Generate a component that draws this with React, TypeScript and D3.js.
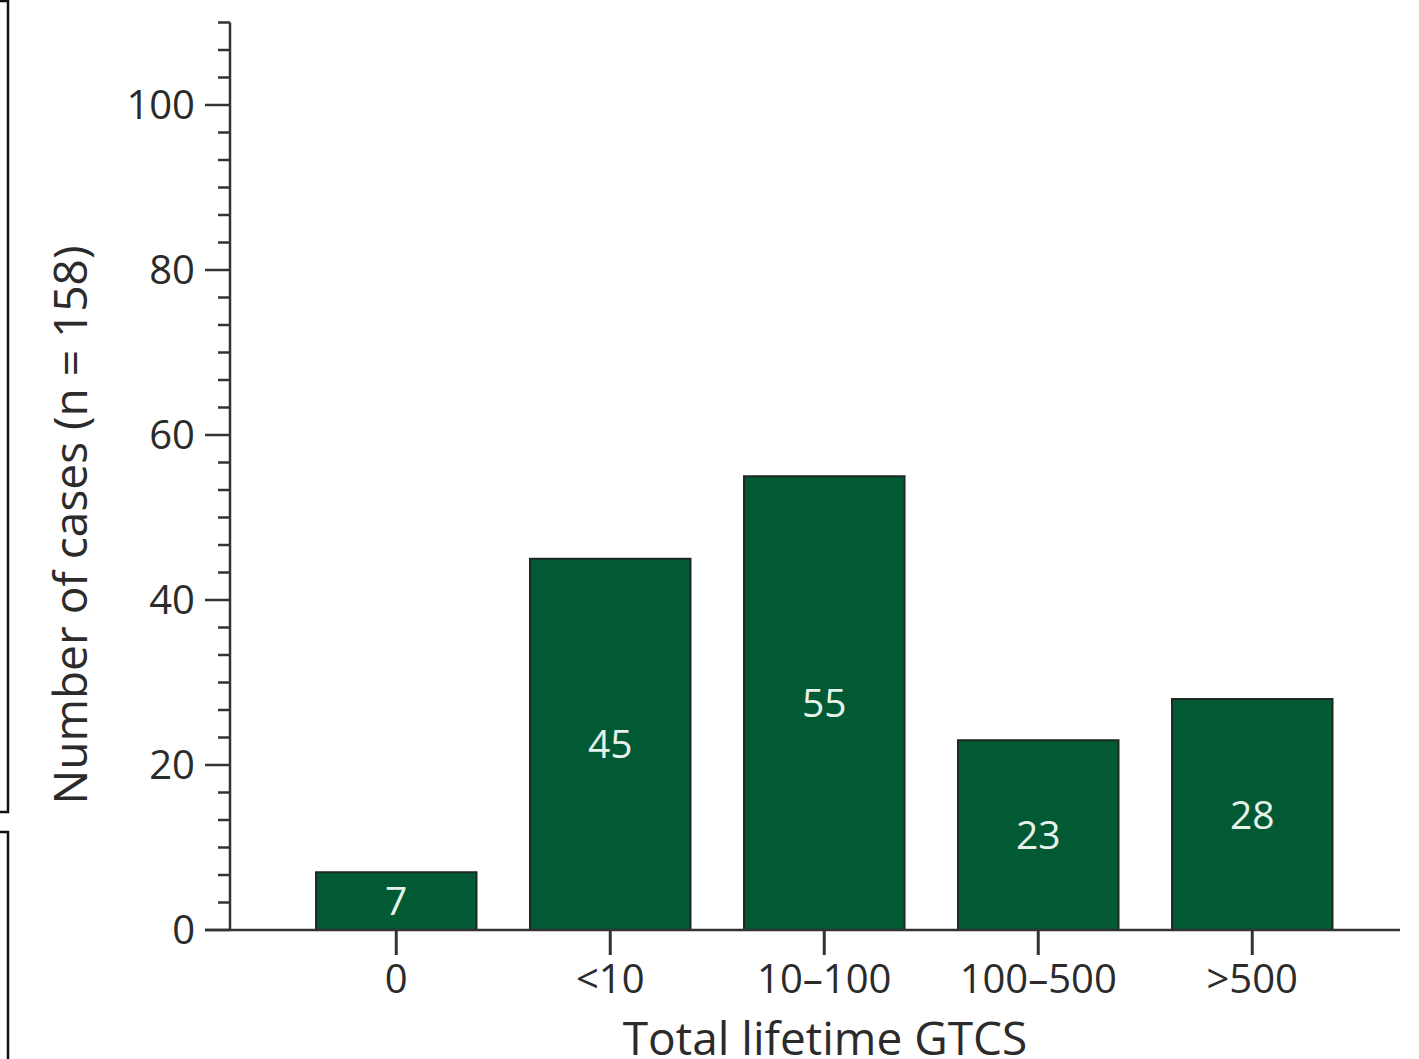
import React, { useRef, useEffect } from 'react';
import * as d3 from 'd3';

// GTCS bins and case counts (n = 158)
const categories = ['0', '<10', '10–100', '100–500', '>500'];
const cases = [7, 45, 55, 23, 28];
const majorTicks = [0, 20, 40, 60, 80, 100];

const App = () => {
  const svgRef = useRef<SVGSVGElement>(null);

  useEffect(() => {
    const width = 1419;
    const height = 1059;
    const font = '"Open Sans", "Noto Sans", sans-serif';
    const textColor = '#2b2b2b';

    const svg = d3.select(svgRef.current);
    svg.selectAll('*').remove();
    svg.attr('width', width).attr('height', height);

    svg.append('rect').attr('width', width).attr('height', height).attr('fill', '#fff');

    // Scales
    const x = d3.scaleBand<string>()
      .domain(categories)
      .range([316, 1332.5])
      .paddingInner(0.25)
      .paddingOuter(0);

    const y = d3.scaleLinear()
      .domain([0, 110])
      .range([930, 22.5]);

    const axisX = 230;

    // Frame pieces on the left (from the cropped figure)
    svg.append('path')
      .attr('d', 'M0,1 H8 V812 H0')
      .attr('fill', 'none')
      .attr('stroke', '#111')
      .attr('stroke-width', 2.5);
    svg.append('path')
      .attr('d', 'M0,832 H8 V1059')
      .attr('fill', 'none')
      .attr('stroke', '#111')
      .attr('stroke-width', 2.5);

    // Bars
    svg.append('g')
      .selectAll('rect')
      .data(cases)
      .join('rect')
      .attr('x', (d, i) => x(categories[i])!)
      .attr('y', d => y(d))
      .attr('width', x.bandwidth())
      .attr('height', d => y(0) - y(d))
      .attr('fill', '#025a35')
      .attr('stroke', '#1b2a22')
      .attr('stroke-width', 2);

    // Value labels inside bars
    svg.append('g')
      .selectAll('text')
      .data(cases)
      .join('text')
      .attr('x', (d, i) => x(categories[i])! + x.bandwidth() / 2)
      .attr('y', d => (y(d) + y(0)) / 2)
      .attr('dy', '0.36em')
      .attr('text-anchor', 'middle')
      .attr('font-family', font)
      .attr('font-size', 39)
      .attr('fill', '#e6f2ea')
      .text(d => d);

    // Y axis: line, minor ticks, major ticks
    const axisG = svg.append('g').attr('stroke', '#333').attr('stroke-width', 2.5);
    axisG.append('line')
      .attr('x1', axisX).attr('x2', axisX)
      .attr('y1', y(110)).attr('y2', y(0));

    const minorTicks = d3.range(0, 111, 20 / 6).filter(v => !majorTicks.some(m => Math.abs(m - v) < 0.01));
    axisG.selectAll('.minor')
      .data(minorTicks)
      .join('line')
      .attr('x1', axisX - 12).attr('x2', axisX)
      .attr('y1', d => y(d)).attr('y2', d => y(d));

    axisG.selectAll('.major')
      .data(majorTicks)
      .join('line')
      .attr('x1', axisX - 25).attr('x2', axisX)
      .attr('y1', d => y(d)).attr('y2', d => y(d));

    svg.append('g')
      .selectAll('text')
      .data(majorTicks)
      .join('text')
      .attr('x', axisX - 35)
      .attr('y', d => y(d))
      .attr('dy', '0.36em')
      .attr('text-anchor', 'end')
      .attr('font-family', font)
      .attr('font-size', 40)
      .attr('fill', textColor)
      .text(d => d);

    // X axis line and ticks
    svg.append('line')
      .attr('x1', axisX - 25).attr('x2', 1400)
      .attr('y1', y(0)).attr('y2', y(0))
      .attr('stroke', '#333').attr('stroke-width', 2.5);

    svg.append('g')
      .selectAll('line')
      .data(categories)
      .join('line')
      .attr('x1', d => x(d)! + x.bandwidth() / 2)
      .attr('x2', d => x(d)! + x.bandwidth() / 2)
      .attr('y1', y(0)).attr('y2', y(0) + 25)
      .attr('stroke', '#333').attr('stroke-width', 3);

    svg.append('g')
      .selectAll('text')
      .data(categories)
      .join('text')
      .attr('x', d => x(d)! + x.bandwidth() / 2)
      .attr('y', 993)
      .attr('text-anchor', 'middle')
      .attr('font-family', font)
      .attr('font-size', 40)
      .attr('fill', textColor)
      .text(d => d);

    // Axis titles
    svg.append('text')
      .attr('transform', `translate(87, 525) rotate(-90)`)
      .attr('text-anchor', 'middle')
      .attr('font-family', font)
      .attr('font-size', 46)
      .attr('fill', textColor)
      .text('Number of cases (n = 158)');

    svg.append('text')
      .attr('x', 825)
      .attr('y', 1055)
      .attr('text-anchor', 'middle')
      .attr('font-family', font)
      .attr('font-size', 46)
      .attr('fill', textColor)
      .text('Total lifetime GTCS');
  }, []);

  return (
    <svg
      ref={svgRef}
      style={{ position: 'absolute', left: 0, top: 0, display: 'block' }}
    />
  );
};

export default App;
